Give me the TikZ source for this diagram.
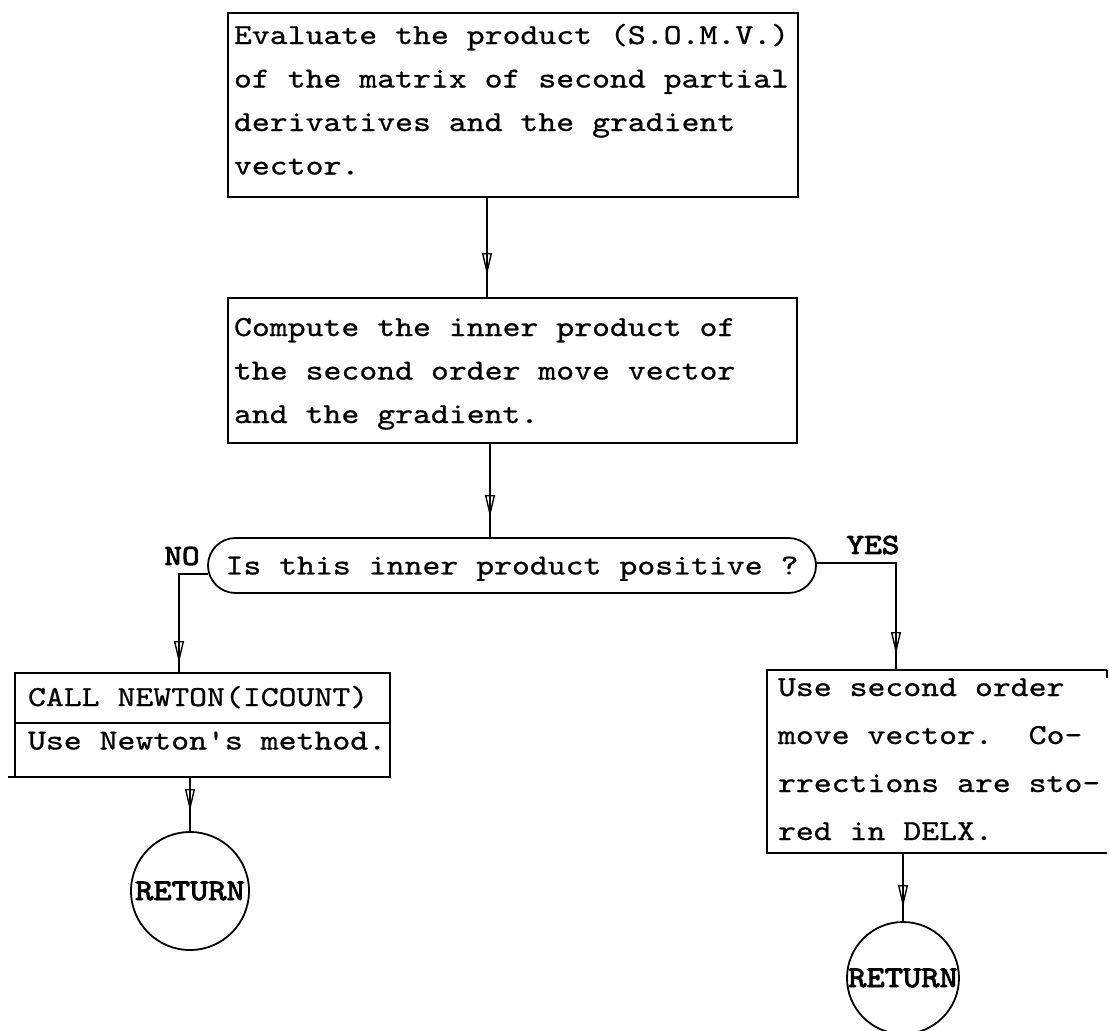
\documentclass[tikz,border=0pt]{standalone}
\usepackage{fontspec}
\usetikzlibrary{arrows.meta,shapes.misc,decorations.markings}
% typewriter faces
\newfontfamily\tw{lmmono10-regular.otf}[FakeStretch=1.176, FakeBold=0.7, Ligatures=TeXOff]
\newfontfamily\twb{lmmono10-regular.otf}[FakeStretch=1.16, FakeBold=3, Ligatures=TeXOff]
\frenchspacing
\begin{document}
\begin{tikzpicture}[x=1pt, y=-1pt, line width=1.8pt,
  every node/.style={inner sep=0pt, outer sep=0pt},
  frame/.style={draw, rectangle, anchor=north west},
  body/.style={anchor=base west, font=\tw\fontsize{29}{43.5}\selectfont},
  tag/.style={font=\twb\fontsize{29}{30}\selectfont},
  endcircle/.style={draw, circle, font=\twb\fontsize{30}{32}\selectfont},
  flow/.style={postaction={decorate}, decoration={markings,
    mark=at position -#1 with {\arrow{Triangle[open, length=22pt, width=10pt, line width=1.4pt]}}}},
  flow/.default=20pt]

\fill[white] (0,0) rectangle (1109,1031);
\useasboundingbox (0,0) rectangle (1109,1031);

% first process box
\node[frame, minimum width=570pt, minimum height=184pt] (b1) at (228,13) {};
\node[body] (b1txt) at (234,44) {\vtop{%
  \hbox{Evaluate the product (S.O.M.V.)}
  \hbox{of the matrix of second partial}
  \hbox{derivatives and the gradient}
  \hbox{vector.}}};

% second process box
\node[frame, minimum width=569pt, minimum height=145pt] (b2) at (228,298) {};
\node[body] (b2txt) at (234,336) {\vtop{%
  \hbox{Compute the inner product of}
  \hbox{the second order move vector}
  \hbox{and the gradient.}}};

% decision
\node[draw, rounded rectangle, minimum width=608pt, minimum height=55pt,
      text depth=0pt, font=\tw\fontsize{29}{32}\selectfont]
  (dec) at (512,565.5) {Is this inner product positive ?};

\node[tag] (no) at (182,556) {NO};
\node[tag] (yes) at (873,545) {YES};

% subroutine call box with divider
\node[frame, minimum width=375pt, minimum height=104pt] (call) at (15,673) {};
\draw ([yshift=2pt]call.west) -- ([yshift=2pt]call.east);
\draw (call.south west) -- ++(-7,0);
\node[body] (calltxt) at (28,706) {\vtop{%
  \hbox{CALL NEWTON(ICOUNT)}
  \hbox{Use Newton's method.}}};

% second order move box (open on the right)
\node[rectangle, anchor=north west, minimum width=340pt, minimum height=183pt] (b4) at (767,670) {};
\draw (b4.north east) -- (b4.north west) -- (b4.south west) -- (b4.south east);
\draw (b4.north east) -- ++(0,8);
\node[body] (b4txt) at (778,696) {\vtop{\baselineskip=48pt
  \hbox{Use second order}
  \hbox{move vector.~~Co-}
  \hbox{rrections are sto-}
  \hbox{red in DELX.}}};

% terminals
\node[endcircle, minimum size=118pt] (r1) at (190,891) {\makebox[0pt]{RETURN}};
\node[endcircle, minimum size=112pt] (r2) at (903,978) {\makebox[0pt]{RETURN}};

% connectors
\draw[flow=23pt] ([xshift=-26pt]b1.south) coordinate (a1) -- (a1 |- b2.north);
\draw[flow=21pt] ([xshift=-22.5pt]b2.south) coordinate (a2) -- (a2 |- dec.north);
\draw[flow=10pt] ([yshift=-8.5pt]dec.west) -- ++(-29,0) coordinate (nob) -- (nob |- call.north);
\draw[flow=16pt] ([yshift=2.5pt]dec.east) -- ++(80,0) coordinate (yb) -- (yb |- b4.north);
\draw[flow=21pt] (r1.north |- call.south) -- (r1.north);
\draw[flow=15pt] (r2.north |- b4.south) -- (r2.north);
\end{tikzpicture}
\end{document}
